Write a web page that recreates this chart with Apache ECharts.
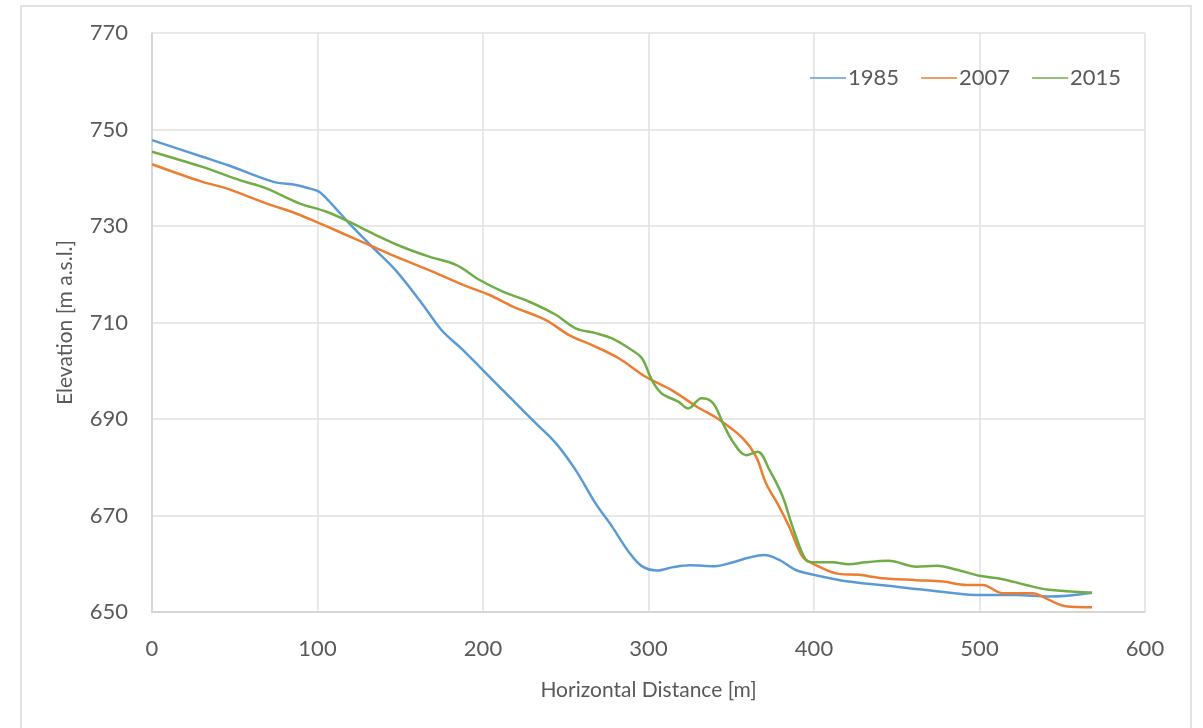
<!DOCTYPE html>
<html>
<head>
<meta charset="utf-8">
<script src="https://cdn.jsdelivr.net/npm/echarts@6/dist/echarts.min.js"></script>
<style>
  html, body { margin: 0; padding: 0; background: #fff; }
  #chart { width: 1203px; height: 728px; }
</style>
</head>
<body>
<div id="chart"></div>
<script>
// profile data: distance [m] and elevation [m a.s.l.]
var seriesNames = ['1985', '2007', '2015'];

var dist1985 = [0, 30, 46, 73, 87, 95, 101, 109, 119, 133, 147, 163, 175, 187, 198, 218, 232, 244, 256, 268, 278, 288, 296, 305, 315, 325, 340, 350, 361, 370, 379, 389, 400, 421, 451, 482, 500, 522, 542, 568];
var elev1985 = [747.8, 744.4, 742.6, 739.2, 738.5, 737.8, 737.1, 734.4, 730.6, 725.7, 720.9, 714, 708.4, 704.6, 700.8, 693.9, 689.1, 685, 679.4, 672.5, 667.7, 662.5, 659.5, 658.6, 659.3, 659.7, 659.5, 660.2, 661.3, 661.8, 660.8, 658.7, 657.7, 656.3, 655.2, 654, 653.5, 653.5, 653.2, 654];

var dist2007 = [0, 30, 45, 69, 87, 101, 115, 129, 147, 167, 188, 204, 218, 238, 252, 266, 282, 298, 314, 329, 343, 357, 365, 371, 379, 385, 393, 399, 415, 427, 441, 462, 478, 492, 502, 514, 532, 542, 552, 568];
var elev2007 = [742.8, 739.2, 737.8, 734.7, 732.6, 730.6, 728.5, 726.4, 723.7, 720.9, 717.8, 715.7, 713.3, 710.5, 707.4, 705.3, 702.6, 698.8, 696, 692.6, 689.8, 686, 682.2, 676.7, 671.8, 667.7, 661.5, 660.1, 657.9, 657.7, 657, 656.6, 656.3, 655.6, 655.6, 653.9, 653.9, 652.5, 651.2, 651];

var dist2015 = [0, 30, 53, 69, 89, 105, 119, 133, 151, 167, 184, 198, 212, 228, 244, 256, 268, 278, 288, 296, 302, 308, 318, 324, 332, 339, 345, 351, 359, 366, 373, 381, 387, 395, 400, 411, 421, 431, 445, 462, 474, 488, 500, 514, 528, 542, 568];
var elev2015 = [745.4, 742.3, 739.5, 737.8, 734.7, 733, 730.9, 728.5, 725.7, 723.7, 721.9, 718.8, 716.4, 714.3, 711.6, 708.8, 707.8, 706.7, 704.7, 702.6, 698.1, 695.3, 693.6, 692.2, 694.3, 693.3, 689.1, 685.3, 682.5, 683.2, 679.5, 674, 667.7, 660.8, 660.3, 660.3, 659.9, 660.3, 660.6, 659.4, 659.6, 658.6, 657.5, 656.8, 655.6, 654.6, 654];

var colors = ['#5B9BD5', '#ED7D31', '#70AD47'];

function pairs(xs, ys) {
  var out = [];
  for (var i = 0; i < xs.length; i++) out.push([xs[i], ys[i]]);
  return out;
}

var chart = echarts.init(document.getElementById('chart'));
var font = 'Lato, "Open Sans", sans-serif';
var txt = '#595959';

var dataSets = [pairs(dist1985, elev1985), pairs(dist2007, elev2007), pairs(dist2015, elev2015)];

chart.setOption({
  animation: false,
  color: colors,
  textStyle: { fontFamily: font },
  graphic: [{
    type: 'rect',
    shape: { x: 21, y: 6, width: 1170, height: 740 },
    style: { fill: 'none', stroke: '#d9d9d9', lineWidth: 1.5 },
    silent: true
  }],
  grid: { left: 152, right: 58, top: 33, bottom: 116 },
  legend: {
    left: 805, top: 62,
    icon: 'rect',
    itemWidth: 36, itemHeight: 1.5, itemGap: 22,
    textStyle: { fontSize: 22, color: txt, fontFamily: font, padding: [0, 0, 0, -3] },
    data: seriesNames
  },
  xAxis: {
    type: 'value', min: 0, max: 600, interval: 100,
    name: 'Horizontal Distance [m]', nameLocation: 'middle', nameGap: 68,
    nameTextStyle: { fontSize: 21, color: txt },
    axisLine: { show: true, lineStyle: { color: '#d0d0d0', width: 1.5 } },
    axisTick: { show: false },
    axisLabel: { fontSize: 22, color: txt, margin: 26 },
    splitLine: { show: true, lineStyle: { color: '#e0e0e0', width: 1.5 } }
  },
  yAxis: {
    type: 'value', min: 650, max: 770, interval: 20,
    name: 'Elevation [m a.s.l.]', nameLocation: 'middle', nameGap: 76, nameRotate: 90,
    nameTextStyle: { fontSize: 21, color: txt },
    axisLine: { show: true, lineStyle: { color: '#d0d0d0', width: 1.5 } },
    axisTick: { show: false },
    axisLabel: { fontSize: 22, color: txt, margin: 24 },
    splitLine: { show: true, lineStyle: { color: '#e0e0e0', width: 1.5 } }
  },
  series: seriesNames.map(function (name, i) {
    return {
      name: name,
      type: 'line',
      data: dataSets[i],
      symbol: 'none',
      smooth: 0.35,
      lineStyle: { width: 2.5, color: colors[i] }
    };
  })
});
</script>
</body>
</html>
